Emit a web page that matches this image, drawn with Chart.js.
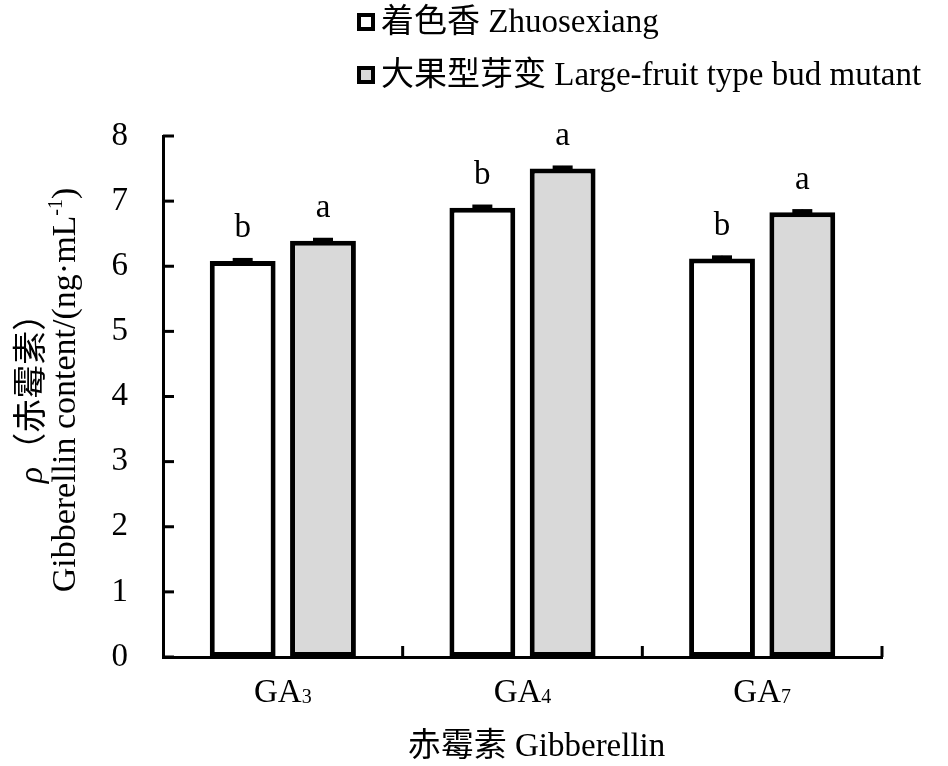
<!DOCTYPE html>
<html>
<head>
<meta charset="utf-8">
<script src="https://cdn.jsdelivr.net/npm/chart.js@4.4.1/dist/chart.umd.min.js"></script>
<style>
  html, body { margin: 0; padding: 0; background: #fff; }
  #wrap { width: 948px; height: 766px; }
</style>
</head>
<body>
<div id="wrap"><canvas id="gaChart" width="948" height="766"></canvas></div>
<script>
const categories = ["GA", "GA", "GA"];
const subscripts = ["3", "4", "7"];
const zhuoValues = [6.08, 6.90, 6.12];
const zhuoErrors = [0.04, 0.04, 0.04];
const zhuoLetters = ["b", "b", "b"];
const budValues = [6.39, 7.50, 6.83];
const budErrors = [0.04, 0.04, 0.04];
const budLetters = ["a", "a", "a"];
const seriesNames = ["着色香 Zhuosexiang", "大果型芽变 Large-fruit type bud mutant"];
const yTicks = [0, 1, 2, 3, 4, 5, 6, 7, 8];

const SERIF = '"Liberation Serif", "Noto Sans CJK SC", serif';
const FS = 33;
const TS = 34;
const LS = 33;

// ticks inside, labels, error bars, letters, legend, titles
const decorPlugin = {
  id: "decor",
  afterDatasetsDraw(chart) {
    const { ctx, chartArea, scales } = chart;
    const x = scales.x, y = scales.y;
    ctx.save();
    ctx.strokeStyle = "#000";
    ctx.fillStyle = "#000";

    // y ticks pointing in
    ctx.lineWidth = 3;
    yTicks.forEach(v => {
      const py = y.getPixelForValue(v);
      ctx.beginPath();
      ctx.moveTo(chartArea.left, py);
      ctx.lineTo(chartArea.left + 11, py);
      ctx.stroke();
    });
    // x ticks between categories
    for (let i = 1; i <= categories.length; i++) {
      const px = (x.getPixelForValue(i - 1) + x.getPixelForValue(i)) / 2;
      const pxr = i === categories.length ? chartArea.right : px;
      ctx.beginPath();
      ctx.moveTo(pxr, chartArea.bottom);
      ctx.lineTo(pxr, chartArea.bottom - 11);
      ctx.stroke();
    }

    // error bars + letters
    const sets = [[zhuoValues, zhuoErrors, zhuoLetters], [budValues, budErrors, budLetters]];
    sets.forEach(([vals, errs, letters], di) => {
      const meta = chart.getDatasetMeta(di);
      meta.data.forEach((bar, i) => {
        const cx = bar.x;
        const top = y.getPixelForValue(vals[i] + errs[i]);
        const bot = y.getPixelForValue(vals[i] - errs[i]);
        ctx.lineWidth = 2;
        ctx.beginPath();
        ctx.moveTo(cx, top);
        ctx.lineTo(cx, bot);
        ctx.stroke();
        ctx.lineWidth = 5;
        ctx.beginPath();
        ctx.moveTo(cx - 10, top + 2);
        ctx.lineTo(cx + 10, top + 2);
        ctx.stroke();
        ctx.font = FS + "px " + SERIF;
        ctx.textAlign = "center";
        ctx.textBaseline = "alphabetic";
        ctx.fillText(letters[i], cx, top - 21);
      });
    });

    // x category labels with subscript
    categories.forEach((c, i) => {
      const cx = x.getPixelForValue(i);
      ctx.font = FS + "px " + SERIF;
      const w1 = ctx.measureText(c).width;
      ctx.font = Math.round(FS * 0.6) + "px " + SERIF;
      const w2 = ctx.measureText(subscripts[i]).width;
      const start = cx - (w1 + w2) / 2;
      ctx.textAlign = "left";
      ctx.textBaseline = "alphabetic";
      ctx.font = FS + "px " + SERIF;
      ctx.fillText(c, start, 702);
      ctx.font = Math.round(FS * 0.6) + "px " + SERIF;
      ctx.fillText(subscripts[i], start + w1, 703);
    });

    // x title
    ctx.font = FS + "px " + SERIF;
    ctx.textAlign = "center";
    ctx.fillText("赤霉素 Gibberellin", (chartArea.left + chartArea.right) / 2 + 14, 756);

    // y title, rotated
    ctx.save();
    ctx.translate(0, 390);
    ctx.rotate(-Math.PI / 2);
    ctx.textBaseline = "middle";
    ctx.textAlign = "left";
    const l1a = "ρ", l1b = "（赤霉素）";
    ctx.font = "italic " + TS + "px " + SERIF;
    const wa = ctx.measureText(l1a).width;
    ctx.font = TS + "px " + SERIF;
    const wb = ctx.measureText(l1b).width;
    let s = -(wa + wb) / 2;
    ctx.font = "italic " + TS + "px " + SERIF;
    ctx.fillText(l1a, s, 33);
    ctx.font = TS + "px " + SERIF;
    ctx.fillText(l1b, s + wa, 33);
    const l2a = "Gibberellin content/(ng·mL", l2b = "-1", l2c = ")";
    const w2a = ctx.measureText(l2a).width;
    const w2c = ctx.measureText(l2c).width;
    ctx.font = Math.round(TS * 0.6) + "px " + SERIF;
    const w2b = ctx.measureText(l2b).width;
    s = -(w2a + w2b + w2c) / 2;
    ctx.font = TS + "px " + SERIF;
    ctx.fillText(l2a, s, 66);
    ctx.font = Math.round(TS * 0.6) + "px " + SERIF;
    ctx.fillText(l2b, s + w2a, 57);
    ctx.font = TS + "px " + SERIF;
    ctx.fillText(l2c, s + w2a + w2b, 66);
    ctx.restore();

    // legend
    chart.data.datasets.forEach((ds, i) => {
      const ly = 22 + i * 53;
      ctx.lineWidth = 4;
      ctx.fillStyle = ds.backgroundColor;
      ctx.fillRect(359, ly - 7, 14, 14);
      ctx.strokeRect(359, ly - 7, 14, 14);
      ctx.fillStyle = "#000";
      ctx.font = LS + "px " + SERIF;
      ctx.textAlign = "left";
      ctx.textBaseline = "middle";
      ctx.fillText(ds.label, 381, ly + 1);
    });
    ctx.restore();
  }
};

new Chart(document.getElementById("gaChart"), {
  type: "bar",
  data: {
    labels: categories.map((c, i) => c + subscripts[i]),
    datasets: [
      {
        label: seriesNames[0],
        data: zhuoValues,
        backgroundColor: "#ffffff",
        borderColor: "#000000",
        borderWidth: 5,
        borderSkipped: false,
        categoryPercentage: 0.67,
        barPercentage: 0.82
      },
      {
        label: seriesNames[1],
        data: budValues,
        backgroundColor: "#d9d9d9",
        borderColor: "#000000",
        borderWidth: 5,
        borderSkipped: false,
        categoryPercentage: 0.67,
        barPercentage: 0.82
      }
    ]
  },
  options: {
    responsive: false,
    animation: false,
    layout: { padding: { top: 136, right: 66, left: 0, bottom: 0 } },
    scales: {
      x: {
        grid: { display: false },
        border: { color: "#000", width: 3 },
        ticks: { display: false },
        afterFit: s => { s.height = 766 - 136 - 521; }
      },
      y: {
        min: 0,
        max: 8,
        grid: { display: false, drawTicks: false },
        border: { color: "#000", width: 3 },
        afterBuildTicks: s => { s.ticks = yTicks.map(v => ({ value: v })); },
        ticks: {
          color: "#000",
          padding: 35,
          font: { family: SERIF, size: FS }
        },
        afterFit: s => { s.width = 163; }
      }
    },
    plugins: {
      legend: { display: false },
      tooltip: { enabled: false }
    }
  },
  plugins: [decorPlugin]
});
</script>
</body>
</html>
